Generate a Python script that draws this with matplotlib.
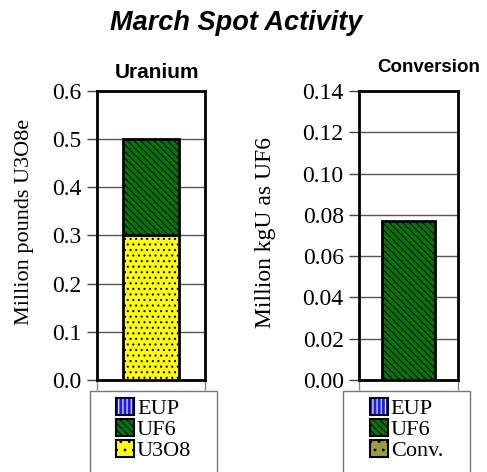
import matplotlib
matplotlib.use('Agg')
import matplotlib.pyplot as plt
from matplotlib.patches import Patch, Rectangle
from matplotlib.legend_handler import HandlerTuple

# data
uranium_u3o8 = [0.30]
uranium_uf6 = [0.20]
uranium_eup = [0.0]
conversion_uf6 = [0.077]
conversion_conv = [0.0]

uranium_ticks = [0.0, 0.1, 0.2, 0.3, 0.4, 0.5, 0.6]
conversion_ticks = [0.00, 0.02, 0.04, 0.06, 0.08, 0.10, 0.12, 0.14]

uranium_legend = ['EUP', 'UF6', 'U3O8']
conversion_legend = ['EUP', 'UF6', 'Conv.']

BLUE = '#1a1aff'
GREEN = '#007a00'
YELLOW = '#ffff00'
OLIVE = '#9c9c3c'
HATCH_LINES = '\\\\\\\\\\'
HATCH_DOTS = '...'

plt.rcParams['font.family'] = ['Liberation Serif']
plt.rcParams['hatch.linewidth'] = 0.8
sans = 'Liberation Sans'

figure = plt.figure(figsize=(4.87, 4.72), dpi=100)


def style_axis(axis, ticks, fmt):
    axis.set_xlim(-0.5, 0.5)
    axis.set_ylim(ticks[0], ticks[-1])
    axis.set_yticks(ticks)
    axis.set_yticklabels([fmt % t for t in ticks], fontsize=17)
    axis.set_xticks([-0.5, 0.5])
    axis.set_xticklabels(['', ''])
    axis.tick_params(axis='y', direction='out', length=7, width=1, color='#444444', pad=4)
    axis.tick_params(axis='x', direction='out', length=7, width=1, color='#888888')
    for spine in axis.spines.values():
        spine.set_linewidth(2)
        spine.set_color('black')
    axis.yaxis.grid(True, color='#555555', linewidth=1)
    axis.set_axisbelow(True)


def legend_handle(color, hatch, hatch_color):
    fill = Patch(facecolor=color, edgecolor=hatch_color, hatch=hatch, linewidth=0)
    edge = Patch(facecolor='none', edgecolor='black', linewidth=1.5)
    return (fill, edge)


def add_legend(x_left, x_right, labels, colors, hatches, hatch_colors):
    top = 1 - 391 / 472
    frame = Rectangle((x_left, -0.01), x_right - x_left, top + 0.01,
                      transform=figure.transFigure, facecolor='white',
                      edgecolor='#777777', linewidth=1)
    figure.patches.append(frame)
    handles = [legend_handle(c, h, hc) for c, h, hc in zip(colors, hatches, hatch_colors)]
    leg = figure.legend(handles, labels, loc='upper center',
                        bbox_to_anchor=((x_left + x_right) / 2, top - 0.005),
                        frameon=False, prop={'size': 16},
                        handler_map={tuple: HandlerTuple(ndivide=1)},
                        handlelength=0.8, handleheight=0.8, handletextpad=0.15,
                        labelspacing=0.0, borderpad=0.2, borderaxespad=0)
    return leg


# uranium panel
axis_u = figure.add_axes([97 / 487, 1 - 380 / 472, 108 / 487, 289 / 472])
style_axis(axis_u, uranium_ticks, '%.1f')
axis_u.bar([0], uranium_u3o8, width=0.52, color=YELLOW, edgecolor='black',
           hatch=HATCH_DOTS, linewidth=2, zorder=3)
axis_u.bar([0], uranium_uf6, bottom=uranium_u3o8, width=0.52, color=GREEN,
           edgecolor='black', hatch=HATCH_LINES, linewidth=2, zorder=3)

# conversion panel
axis_c = figure.add_axes([359 / 487, 1 - 380 / 472, 99 / 487, 289 / 472])
style_axis(axis_c, conversion_ticks, '%.2f')
axis_c.bar([0], conversion_uf6, width=0.53, color=GREEN, edgecolor='black',
           hatch=HATCH_LINES, linewidth=2, zorder=3)

figure.text(25 / 487, 1 - 222 / 472, 'Million pounds U3O8e', rotation=90,
            ha='center', va='center', fontsize=16)
figure.text(266 / 487, 1 - 232 / 472, 'Million kgU as UF6', rotation=90,
            ha='center', va='center', fontsize=17)

figure.text(236 / 487, 1 - 23 / 472, 'March Spot Activity', ha='center', va='center',
            fontfamily=sans, fontsize=19.5, fontweight='bold', fontstyle='italic')
figure.text(157 / 487, 1 - 72 / 472, 'Uranium', ha='center', va='center',
            fontfamily=sans, fontsize=15, fontweight='bold')
figure.text(429 / 487, 1 - 68 / 472, 'Conversion', ha='center', va='center',
            fontfamily=sans, fontsize=13.5, fontweight='bold')

add_legend(90 / 487, 217 / 487, uranium_legend, [BLUE, GREEN, YELLOW],
           ['||||', HATCH_LINES, '..'], ['white', 'black', 'black'])
add_legend(343 / 487, 470 / 487, conversion_legend, [BLUE, GREEN, OLIVE],
           ['||||', HATCH_LINES, '..'], ['white', 'black', 'black'])

figure.savefig('out.png', dpi=100)
